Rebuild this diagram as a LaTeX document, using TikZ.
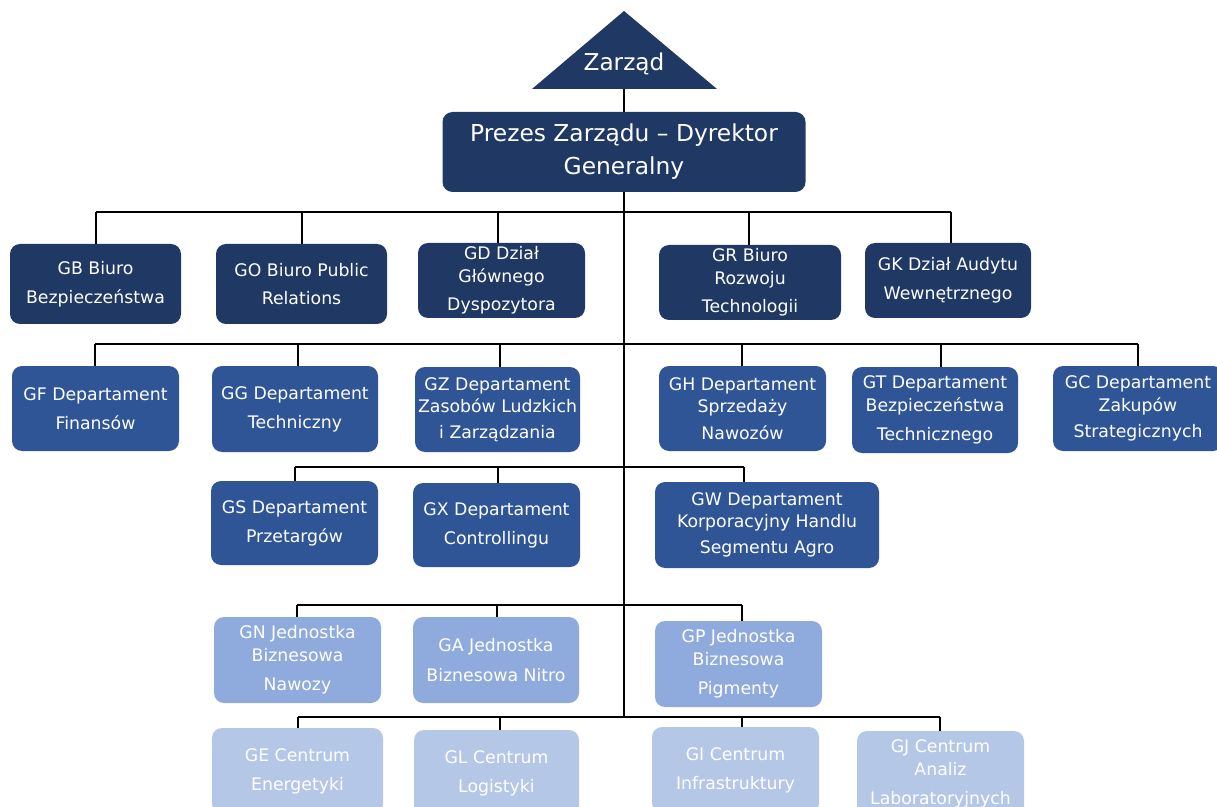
\documentclass[tikz,border=0pt]{standalone}
\usepackage{fontspec}
\setmainfont{DejaVu Sans}
\definecolor{navyA}{RGB}{32,56,100}
\definecolor{blueB}{RGB}{47,85,151}
\definecolor{lightC}{RGB}{143,170,220}
\definecolor{paleD}{RGB}{180,199,231}

\begin{document}
\begin{tikzpicture}[x=0.025cm,y=-0.025cm,
		box/.style={rounded corners=0.25cm,text=white,align=center,inner sep=0pt,
			font=\fontsize{12.3}{16}\selectfont},
		sz/.style 2 args={minimum width=#1*0.025cm,minimum height=#2*0.025cm},
		lvA/.style={box,fill=navyA},
		lvB/.style={box,fill=blueB},
		lvC/.style={box,fill=lightC},
		lvD/.style={box,fill=paleD},
		link/.style={line width=0.9pt}]
	\useasboundingbox (0,0) rectangle (1217,807);
	% top
	\fill[navyA] (624,11) -- (717,89) -- (532,89) -- cycle;
	\node[text=white,font=\fontsize{16.5}{20}\selectfont] (zarzad) at (624,64) {Zarząd};
	\coordinate (zbase) at (624,89);
	\node[lvA,sz={363}{80},font=\fontsize{16.6}{19}\selectfont] (prezes) at (624,152)
		{Prezes Zarządu – Dyrektor\\[4.5pt]Generalny};
	% first row
	\node[lvA,sz={171}{80}] (gb) at (95.5,284) {GB Biuro\\[4.5pt]Bezpieczeństwa};
	\node[lvA,sz={171}{80}] (go) at (301.5,284) {GO Biuro Public\\[4.5pt]Relations};
	\node[lvA,sz={167}{75}] (gd) at (501.5,280.5) {GD Dział\\Głównego\\[4.5pt]Dyspozytora};
	\node[lvA,sz={182}{75}] (gr) at (750,282.5) {GR Biuro\\Rozwoju\\[4.5pt]Technologii};
	\node[lvA,sz={166}{75}] (gk) at (948,280.5) {GK Dział Audytu\\[4.5pt]Wewnętrznego};
	% departments
	\node[lvB,sz={167}{85}] (gf) at (95.5,408.5) {GF Departament\\[4.5pt]Finansów};
	\node[lvB,sz={166}{86}] (gg) at (295,409) {GG Departament\\[4.5pt]Techniczny};
	\node[lvB,sz={165}{85}] (gz) at (497.5,409.5) {GZ Departament\\Zasobów Ludzkich\\[2pt]i Zarządzania};
	\node[lvB,sz={167}{85}] (gh) at (742.5,408.5) {GH Departament\\Sprzedaży\\[3pt]Nawozów};
	\node[lvB,sz={166}{86}] (gt) at (935,410) {GT Departament\\Bezpieczeństwa\\[4.5pt]Technicznego};
	\node[lvB,sz={170}{85}] (gc) at (1138,408.5) {GC Departament\\Zakupów\\[3pt]Strategicznych};
	\node[lvB,sz={167}{84}] (gs) at (294.5,523) {GS Departament\\[4.5pt]Przetargów};
	\node[lvB,sz={167}{84}] (gx) at (496.5,525) {GX Departament\\[4.5pt]Controllingu};
	\node[lvB,sz={224}{86}] (gw) at (767,525) {GW Departament\\Korporacyjny Handlu\\[2.5pt]Segmentu Agro};
	% business units
	\node[lvC,sz={167}{86}] (gn) at (297.5,660) {GN Jednostka\\Biznesowa\\[5pt]Nawozy};
	\node[lvC,sz={166}{86}] (ga) at (496,660) {GA Jednostka\\[5pt]Biznesowa Nitro};
	\node[lvC,sz={167}{86}] (gp) at (738.5,664) {GP Jednostka\\Biznesowa\\[5pt]Pigmenty};
	% centres
	\node[lvD,sz={171}{86}] (ge) at (297.5,771) {GE Centrum\\[4.5pt]Energetyki};
	\node[lvD,sz={165}{86}] (gl) at (496.5,773) {GL Centrum\\[4.5pt]Logistyki};
	\node[lvD,sz={167}{86}] (gi) at (735.5,770) {GI Centrum\\[4.5pt]Infrastruktury};
	\node[lvD,sz={167}{86}] (gj) at (940.5,774) {GJ Centrum\\Analiz\\[5pt]Laboratoryjnych};
	% connectors
	\draw[link] (zbase) -- (prezes.north);
	\draw[link] (prezes.south) -- (624,717);
	\draw[link] (96,212) -- (951,212);
	\draw[link] (95,344) -- (1138,344);
	\draw[link] (295,467) -- (744,467);
	\draw[link] (297,605) -- (742,605);
	\draw[link] (298,717) -- (940,717);
	\foreach \n/\x/\y in {gb/96/212,go/302/212,gd/498/212,gr/749/212,gk/951/212,
			gf/95/344,gg/298/344,gz/500/344,gh/742/344,gt/941/344,gc/1138/344,
			gs/295/467,gx/498/467,gw/744/467,
			gn/297/605,ga/497/605,gp/742/605,
			ge/298/717,gl/500/717,gi/742/717,gj/940/717}
		\draw[link] (\x,\y) -- (\x,0 |- \n.north);
\end{tikzpicture}
\end{document}
